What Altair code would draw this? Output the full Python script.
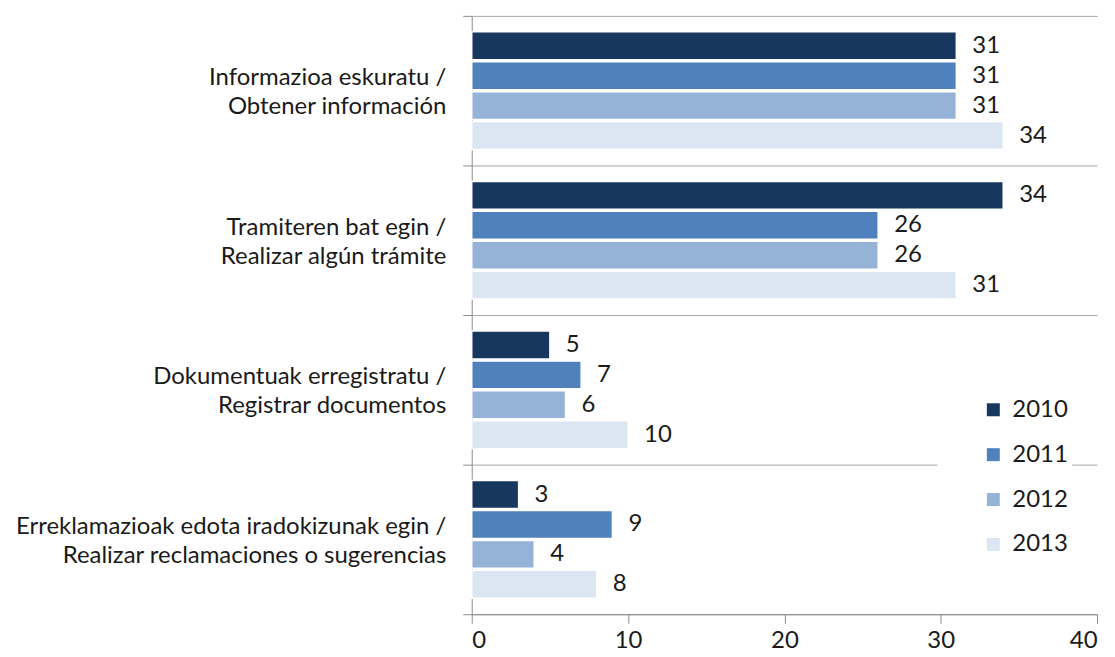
import altair as alt
import pandas as pd

categories = [
    "Informazioa eskuratu /|Obtener información",
    "Tramiteren bat egin /|Realizar algún trámite",
    "Dokumentuak erregistratu /|Registrar documentos",
    "Erreklamazioak edota iradokizunak egin /|Realizar reclamaciones o sugerencias",
]
years = ["2010", "2011", "2012", "2013"]
v2010 = [31, 34, 5, 3]
v2011 = [31, 26, 7, 9]
v2012 = [31, 26, 6, 4]
v2013 = [34, 31, 10, 8]
colors = ["#17375E", "#4F81BD", "#95B3D7", "#DCE6F2"]

series = {"2010": v2010, "2011": v2011, "2012": v2012, "2013": v2013}
rows = []
for y in years:
    for c, v in zip(categories, series[y]):
        rows.append({"cat": c, "year": y, "value": v})
df = pd.DataFrame(rows)

FONT = "Lato"
FS = 24
TXT = "#1a1a1a"

y_enc = alt.Y(
    "cat:N",
    sort=categories,
    title=None,
    scale=alt.Scale(paddingInner=0, paddingOuter=0),
    axis=alt.Axis(
        tickBand="extent",
        grid=True,
        gridColor="#a6a6a6",
        gridWidth=1,
        domainColor="#8c8c8c",
        tickColor="#8c8c8c",
        tickSize=9,
        labelExpr="split(datum.label, '|')",
        labelFont=FONT,
        labelFontSize=FS,
        labelColor=TXT,
        labelPadding=17,
        labelLineHeight=29,
        labelOffset=-13,
        labelLimit=700,
    ),
)
yoff = alt.YOffset(
    "year:N", sort=years, scale=alt.Scale(paddingInner=0.067, paddingOuter=0.533)
)

bars = alt.Chart(df).mark_bar(stroke="white", strokeWidth=1.5).encode(
    y=y_enc,
    yOffset=yoff,
    x=alt.X(
        "value:Q",
        title=None,
        scale=alt.Scale(domain=[0, 40]),
        axis=alt.Axis(
            values=[0, 10, 20, 30, 40],
            grid=False,
            domainColor="#8c8c8c",
            tickColor="#8c8c8c",
            tickSize=9,
            labelFont=FONT,
            labelFontSize=FS,
            labelColor=TXT,
            labelPadding=5,
        ),
    ),
    color=alt.Color(
        "year:N",
        sort=years,
        scale=alt.Scale(domain=years, range=colors),
        legend=alt.Legend(
            title=None,
            orient="none",
            legendX=467,
            legendY=379,
            symbolType="square",
            symbolSize=169,
            symbolStrokeWidth=0,
            symbolOffset=40,
            labelFont=FONT,
            labelFontSize=FS,
            labelColor=TXT,
            labelOffset=7,
            rowPadding=21,
            fillColor="white",
            padding=4,
        ),
    ),
)

labels = alt.Chart(df).mark_text(
    align="left", baseline="middle", dx=16, font=FONT, fontSize=FS, color=TXT
).encode(
    y=alt.Y("cat:N", sort=categories),
    yOffset=alt.YOffset("year:N", sort=years),
    x="value:Q",
    text="value:Q",
)

chart = (
    alt.layer(bars, labels)
    .properties(
        width=627,
        height=600,
        autosize=alt.AutoSizeParams(type="none"),
        padding={"left": 465, "top": 7, "right": 10, "bottom": 40},
    )
    .configure_view(stroke=None)
)

chart.save("out.html", embed_options={"renderer": "svg", "actions": False})
